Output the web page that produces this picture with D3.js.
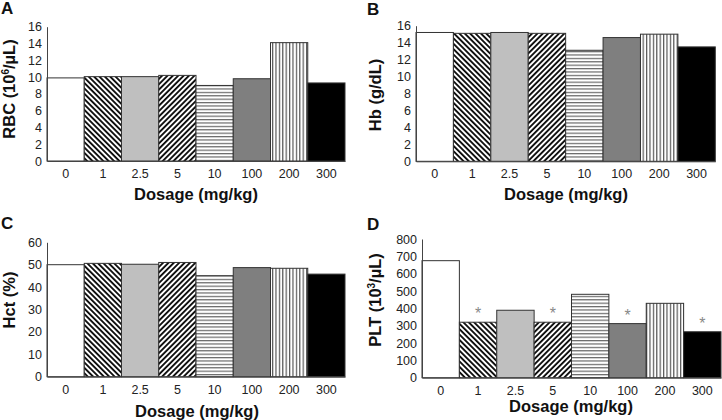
<!DOCTYPE html>
<html><head><meta charset="utf-8">
<script src="https://cdn.jsdelivr.net/npm/d3@7"></script>
<style>body{margin:0;background:#fff}svg{display:block;font-family:"Liberation Sans",Arial,sans-serif}</style>
</head><body><svg id="c" width="722" height="420"></svg>
<script>
const dosages = ["0","1","2.5","5","10","100","200","300"];
const rbc = [9.9,10.05,10.05,10.2,9.0,9.8,14.1,9.3];
const hb = [15.2,15.1,15.2,15.1,13.1,14.6,15.0,13.5];
const hct = [50,50.6,50.2,51,45.1,48.7,48.4,45.8];
const plt = [675,320,389,320,481,312,429,265];
const pltSig = [false,true,false,true,false,true,false,true];
const fills = ["#ffffff","url(#diagBack)","#bfbfbf","url(#diagFwd)","url(#horiz)","#7f7f7f","url(#vert)","#000000"];

const svg = d3.select("#c");
const defs = svg.append("defs");
function stripes(id, angle, period, width, color){
  const p = defs.append("pattern").attr("id",id).attr("patternUnits","userSpaceOnUse")
    .attr("width",period).attr("height",period).attr("patternTransform",`rotate(${angle})`);
  p.append("rect").attr("width",period).attr("height",period).attr("fill","#fff");
  p.append("rect").attr("x",0).attr("y",0).attr("width",width).attr("height",period).attr("fill",color);
}
stripes("diagBack",-45,3.8,1.9,"#111");
stripes("diagFwd",45,3.8,1.9,"#111");
stripes("horiz",90,3.4,1.2,"#666");
stripes("vert",0,3.4,1.2,"#555");

const panels = [
  {label:"A", lx:1, ly:14, vals:rbc, max:16, step:2, x0:47, x1:345, yt:26.7, yb:161, title:["RBC (10","6","/µL)"], tx:15, ty:89, xtx:196, xty:200},
  {label:"B", lx:367, ly:15, vals:hb, max:16, step:2, x0:416, x1:715.3, yt:25.7, yb:161.3, title:["Hb (g/dL)"], tx:381, ty:95, xtx:566, xty:200},
  {label:"C", lx:1, ly:229, vals:hct, max:60, step:10, x0:47, x1:345, yt:242.3, yb:376.7, title:["Hct (%)"], tx:15, ty:300, xtx:197, xty:417, },
  {label:"D", lx:367, ly:230, vals:plt, max:800, step:100, x0:422, x1:721, yt:239, yb:377.7, title:["PLT (10","3","/µL)"], tx:381, ty:300, xtx:571, xty:412, sig:pltSig}
];

panels.forEach(p=>{
  const g = svg.append("g");
  const rows = p.vals.map((v,i)=>({dose:dosages[i], v:v, fill:fills[i], sig:p.sig?p.sig[i]:false}));
  const x = d3.scaleBand().domain(dosages).range([p.x0,p.x1]).paddingInner(0).paddingOuter(0);
  const y = d3.scaleLinear().domain([0,p.max]).range([p.yb,p.yt]);
  g.selectAll("rect.bar").data(rows).join("rect").attr("class","bar")
    .attr("x",d=>x(d.dose)).attr("width",x.bandwidth())
    .attr("y",d=>y(d.v)).attr("height",d=>y(0)-y(d.v))
    .attr("fill",d=>d.fill).attr("stroke","#333").attr("stroke-width",1);
  g.selectAll("text.sig").data(rows.filter(d=>d.sig)).join("text").attr("class","sig")
    .attr("x",d=>x(d.dose)+x.bandwidth()/2).attr("y",d=>y(d.v)-3)
    .attr("text-anchor","middle").attr("font-size",16).attr("fill","#888").text("*");
  const ya = d3.axisLeft(y).tickValues(d3.range(0,p.max+0.001,p.step)).tickSize(0).tickPadding(5);
  const yg = g.append("g").attr("transform",`translate(${p.x0},0)`).call(ya);
  const xa = d3.axisBottom(x).tickSize(0).tickPadding(8);
  const xg = g.append("g").attr("transform",`translate(0,${p.yb})`).call(xa);
  [yg,xg].forEach(a=>{
    a.select(".domain").attr("stroke","#444").attr("stroke-width",1);
    a.selectAll("text").attr("font-size",12.5).attr("fill","#222").attr("font-family","Liberation Sans, Arial, sans-serif");
  });
  svg.append("text").attr("x",p.lx).attr("y",p.ly).attr("font-size",17).attr("font-weight","bold").attr("fill","#111").text(p.label);
  svg.append("text").attr("x",p.xtx).attr("y",p.xty).attr("text-anchor","middle").attr("font-size",16.5).attr("font-weight","bold").attr("fill","#111").text("Dosage (mg/kg)");
  const t = svg.append("text").attr("transform",`translate(${p.tx},${p.ty}) rotate(-90)`).attr("text-anchor","middle")
    .attr("font-size",16.5).attr("font-weight","bold").attr("fill","#111");
  t.append("tspan").text(p.title[0]);
  if(p.title.length>1){
    t.append("tspan").attr("font-size",10).attr("dy",-6).text(p.title[1]);
    t.append("tspan").attr("dy",6).text(p.title[2]);
  }
});
</script></body></html>
